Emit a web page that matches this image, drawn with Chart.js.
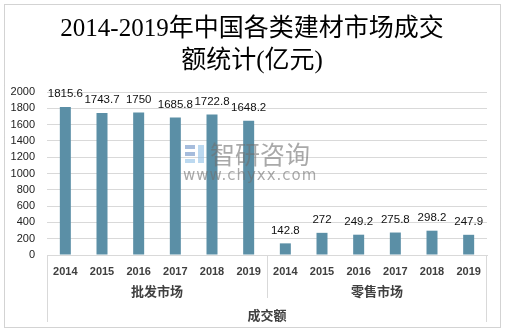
<!DOCTYPE html>
<html>
<head>
<meta charset="utf-8">
<script src="https://cdn.jsdelivr.net/npm/chart.js@4"></script>
<style>
  html, body { margin: 0; padding: 0; background: #fff; }
  #wrap { width: 505px; height: 332px; }
</style>
</head>
<body>
<div id="wrap"><canvas id="chart" width="505" height="332"></canvas></div>
<script>
const titleLines = ['2014-2019年中国各类建材市场成交', '额统计(亿元)'];
const years = ['2014', '2015', '2016', '2017', '2018', '2019', '2014', '2015', '2016', '2017', '2018', '2019'];
const groups = ['批发市场', '零售市场'];
const axisTitle = '成交额';
const turnover = [1815.6, 1743.7, 1750, 1685.8, 1722.8, 1648.2, 142.8, 272, 249.2, 275.8, 298.2, 247.9];
const yMax = 2000;
const yStep = 200;

const lineColor = '#d9d9d9';
const barColor = '#5b8fa6';

// title, frame, group labels, value labels and watermark
const decor = {
  id: 'decor',
  afterDatasetsDraw(chart) {
    const { ctx } = chart;
    const meta = chart.getDatasetMeta(0);

    ctx.save();
    // value labels above bars
    ctx.fillStyle = '#111';
    ctx.font = '11.5px "Liberation Sans", Arial, sans-serif';
    ctx.textAlign = 'center';
    ctx.textBaseline = 'middle';
    meta.data.forEach((bar, i) => {
      ctx.fillText(String(turnover[i]), bar.x, bar.y - 13);
    });

    // watermark
    ctx.globalAlpha = 0.6;
    ctx.fillStyle = '#6b8fc4';
    ctx.fillRect(185, 145, 10, 4);
    ctx.fillRect(185, 152, 10, 4);
    ctx.fillStyle = '#8fc0e6';
    ctx.fillRect(185, 159, 10, 4);
    ctx.fillRect(198, 145, 6, 18);
    ctx.fillStyle = '#6f6f6f';
    ctx.textAlign = 'left';
    ctx.font = '25px "Noto Sans CJK SC", sans-serif';
    ctx.fillText('智研咨询', 210, 154);
    ctx.font = '15px "DejaVu Sans", sans-serif';
    ctx.letterSpacing = '1px';
    ctx.fillText('www.chyxx.com', 183, 176);
    ctx.restore();
  },
  afterDraw(chart) {
    const { ctx, chartArea } = chart;
    const x = chart.scales.x;
    const left = chartArea.left, right = chartArea.right, base = chartArea.bottom;
    const mid = (x.getPixelForValue(5) + x.getPixelForValue(6)) / 2;

    ctx.save();
    // outer dotted frame
    ctx.strokeStyle = '#a6a6a6';
    ctx.lineWidth = 1;
    ctx.setLineDash([1, 1]);
    ctx.strokeRect(4.5, 4.5, 496, 323);
    ctx.setLineDash([]);

    // category group separators
    ctx.strokeStyle = lineColor;
    ctx.beginPath();
    ctx.moveTo(Math.round(left) + 0.5, base);
    ctx.lineTo(Math.round(left) + 0.5, 322);
    ctx.moveTo(Math.round(mid) + 0.5, base);
    ctx.lineTo(Math.round(mid) + 0.5, 298);
    ctx.moveTo(Math.round(right) - 0.5, base);
    ctx.lineTo(Math.round(right) - 0.5, 322);
    ctx.stroke();

    ctx.fillStyle = '#404040';
    ctx.textAlign = 'center';
    ctx.textBaseline = 'middle';
    ctx.font = 'bold 13px "Noto Sans CJK SC", sans-serif';
    ctx.fillText(groups[0], (left + mid) / 2, 291);
    ctx.fillText(groups[1], (mid + right) / 2, 291);
    ctx.fillText(axisTitle, (left + right) / 2, 315);

    // title
    ctx.fillStyle = '#000';
    ctx.font = '25px "Liberation Serif", "Noto Sans CJK SC", serif';
    ctx.fillText(titleLines[0], 252, 29);
    ctx.fillText(titleLines[1], 252, 61);
    ctx.restore();
  }
};

new Chart(document.getElementById('chart'), {
  type: 'bar',
  data: {
    labels: years,
    datasets: [{
      data: turnover,
      backgroundColor: barColor,
      categoryPercentage: 1,
      barPercentage: 0.3
    }]
  },
  options: {
    responsive: false,
    animation: false,
    layout: { padding: { top: 92, right: 18, bottom: 0, left: 0 } },
    plugins: {
      legend: { display: false },
      title: { display: false },
      tooltip: { enabled: false }
    },
    scales: {
      x: {
        grid: { display: false },
        border: { color: lineColor },
        ticks: {
          color: '#404040',
          font: { family: '"Liberation Sans", Arial, sans-serif', size: 11, weight: 'bold' },
          padding: 2,
          maxRotation: 0,
          autoSkip: false
        },
        afterFit(scale) { scale.height = 77; }
      },
      y: {
        min: 0,
        max: yMax,
        grid: { color: lineColor, drawTicks: false },
        border: { display: false },
        ticks: {
          stepSize: yStep,
          color: '#222',
          padding: 12,
          font: { family: '"Liberation Sans", Arial, sans-serif', size: 11 },
          callback: (v) => String(v)
        },
        afterFit(scale) { scale.width = 47; }
      }
    }
  },
  plugins: [decor]
});
</script>
</body>
</html>
